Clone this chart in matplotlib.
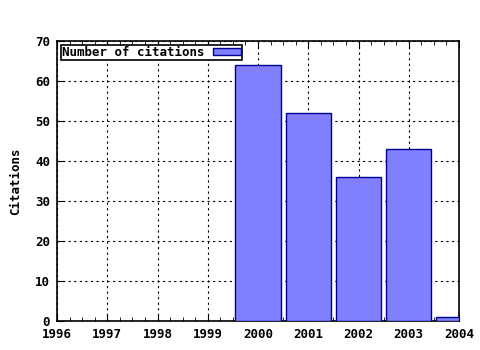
import matplotlib
matplotlib.use("Agg")
import matplotlib.pyplot as plt
from matplotlib.ticker import MultipleLocator

# данні
years = [2000, 2001, 2002, 2003, 2004]
citations = [64, 52, 36, 43, 1]
xticks = [1996, 1997, 1998, 1999, 2000, 2001, 2002, 2003, 2004]
yticks = [0, 10, 20, 30, 40, 50, 60, 70]

plt.rcParams['font.family'] = 'DejaVu Sans Mono'
plt.rcParams['font.weight'] = 'bold'
plt.rcParams['font.size'] = 9

fig = plt.figure(figsize=(4.8, 3.5), dpi=100)
ax = fig.add_axes([57/480, 1 - 321/350, (459 - 57)/480, (321 - 41)/350])

ax.bar(years, citations, width=0.9, color='#8080ff', edgecolor='#000090',
       linewidth=1, label='Number of citations', zorder=3)

ax.set_xlim(1996, 2004)
ax.set_ylim(0, 70)
ax.set_xticks(xticks)
ax.set_yticks(yticks)
ax.xaxis.set_minor_locator(MultipleLocator(0.25))
ax.tick_params(axis='x', which='both', direction='in', top=True, pad=5)
ax.tick_params(axis='y', which='both', direction='in', pad=5)
ax.tick_params(which='major', length=5)
ax.tick_params(which='minor', length=3)
ax.grid(True, color='black', linestyle=(0, (2, 3)), linewidth=0.8, zorder=0)
ax.set_axisbelow(True)
for s in ax.spines.values():
    s.set_linewidth(1.2)

ax.set_ylabel('Citations', labelpad=9, fontweight='bold')

leg = ax.legend(loc='upper left', markerfirst=False, fancybox=False,
                framealpha=1, edgecolor='black', borderpad=0.1,
                handlelength=2.2, handleheight=0.5, borderaxespad=0.3,
                handletextpad=0.7)
leg.get_frame().set_linewidth(1.2)

fig.savefig('out.png', dpi=100)
